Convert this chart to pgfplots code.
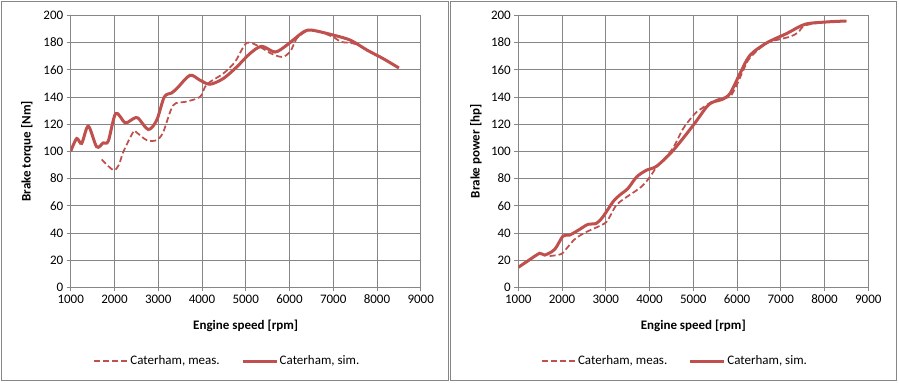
\documentclass[border=0pt]{standalone}
\usepackage{fontspec}
\setmainfont{Carlito}
\usepackage{pgfplots}
\pgfplotsset{compat=1.18}
\definecolor{serred}{HTML}{C0504D}
\definecolor{gridgray}{HTML}{868686}
\pgfplotsset{
  myax/.style={
    scale only axis, width=350bp, height=272bp,
    xmin=1000, xmax=9000, ymin=0, ymax=200,
    xtick={1000,2000,...,9000}, ytick={0,20,...,200},
    grid=major, major grid style={gridgray, line width=0.75bp},
    axis line style={gridgray, line width=0.75bp},
    tick style={gridgray, line width=0.75bp},
    tick align=outside, major tick length=4bp, tick pos=left,
    /pgf/number format/assume math mode=true,
    /pgf/number format/1000 sep={},
    tick label style={font=\fontsize{13bp}{15bp}\selectfont, text=black},
    label style={font=\fontsize{13bp}{15bp}\selectfont\bfseries},
    xlabel={Engine speed [rpm]},
    xlabel style={at={(axis description cs:0.5,-0.14)}, anchor=center},
    legend style={draw=none, fill=none, font=\fontsize{13bp}{15bp}\selectfont,
      legend columns=2, at={(axis description cs:0.4466,-0.271)}, anchor=center,
      /tikz/every even column/.append style={column sep=20bp},
      nodes={inner sep=1.5bp}},
    legend image code/.code={\draw[#1] (0bp,0bp) -- (34bp,0bp);},
    meas/.style={serred, line width=1.75bp, dash pattern=on 6bp off 3bp, smooth, tension=0.5},
    sim/.style={serred, line width=3bp, smooth, tension=0.5},
  }
}
\begin{document}
\begin{tikzpicture}
\useasboundingbox (0,0) rectangle (899bp,383bp);
\fill[white] (0,0) rectangle (899bp,383bp);
\draw[gridgray, line width=0.75bp] (1.5bp,3bp) rectangle (448.5bp,382bp);
\draw[gridgray, line width=0.75bp] (450.5bp,3bp) rectangle (896.5bp,382bp);

\begin{axis}[myax, at={(70.7bp,95.7bp)}, anchor=south west,
  ylabel={Brake torque [Nm]},
  ylabel style={at={(axis description cs:-0.125,0.5)}, anchor=center}]
\addplot[meas] coordinates {
(1709,94) (1974,86.2) (2100,90) (2203,99.6) (2431,114.3) (2500,114)
(2737,108.2) (2966,108.2) (3117,114.3) (3345,133.9) (3650,136.5)
(3955,140) (4070,147.3) (4183,151) (4488,157.2) (4755,165.7)
(5023,179.7) (5327,176.7) (5555,172.3) (5823,169.4) (6013,173)
(6166,182.9) (6400,188.5) (6600,189) (7000,184) (7170,180.5)
(7360,179.8) (7550,178.5) (7780,174.3) (8150,168) (8500,161.3)};
\addlegendentry{Caterham, meas.}
\addplot[sim] coordinates {
(1000,100) (1137,109.4) (1251,105.8) (1402,118.5) (1594,103.3)
(1745,106.2) (1859,107.5) (2029,127.8) (2241,120.9) (2378,122.9)
(2531,124.6) (2774,116) (2966,122.9) (3140,140) (3309,142.9)
(3450,147) (3727,155.9) (3955,152.3) (4183,149.3) (4488,153.5)
(4794,162) (5098,171.9) (5366,177.2) (5670,173) (5937,178)
(6317,187.7) (6520,189) (7020,185.3) (7400,181.6) (7780,174.3)
(8150,168) (8500,161.3)};
\addlegendentry{Caterham, sim.}
\end{axis}

\begin{axis}[myax, at={(518.3bp,95.7bp)}, anchor=south west,
  ylabel={Brake power [hp]},
  ylabel style={at={(axis description cs:-0.121,0.5)}, anchor=center}]
\addplot[meas] coordinates {
(1717,23) (1983,24.5) (2136,29.8) (2289,35.3) (2518,40.1) (2975,47)
(3090,51.9) (3240,60.4) (3432,65.4) (3812,73.9) (4010,81.2)
(4163,88.6) (4314,93.5) (4543,102.8) (4771,116.8) (5039,127.8)
(5191,131.5) (5420,136.3) (5686,139.5) (5839,140) (5992,148.6)
(6143,159.6) (6300,169) (6677,179.5) (7000,182.5) (7231,184.5)
(7400,187.5) (7553,192.5) (8049,195.1) (8500,195.8)};
\addlegendentry{Caterham, meas.}
\addplot[sim] coordinates {
(1000,14.7) (1222,19.5) (1489,25) (1603,23.7) (1832,27.9)
(2022,37.7) (2175,38.4) (2403,42.6) (2593,46.3) (2783,47)
(2936,51.9) (3165,62.9) (3318,67.8) (3507,72.7) (3706,81.2)
(3935,86.2) (4163,89.1) (4543,100.8) (5000,119.2) (5306,132.7)
(5457,136.3) (5649,138) (5839,142.5) (6067,157.2) (6296,170.6)
(6677,179.7) (7135,186.6) (7553,193.4) (8049,195.1) (8500,195.8)};
\addlegendentry{Caterham, sim.}
\end{axis}
\end{tikzpicture}
\end{document}
